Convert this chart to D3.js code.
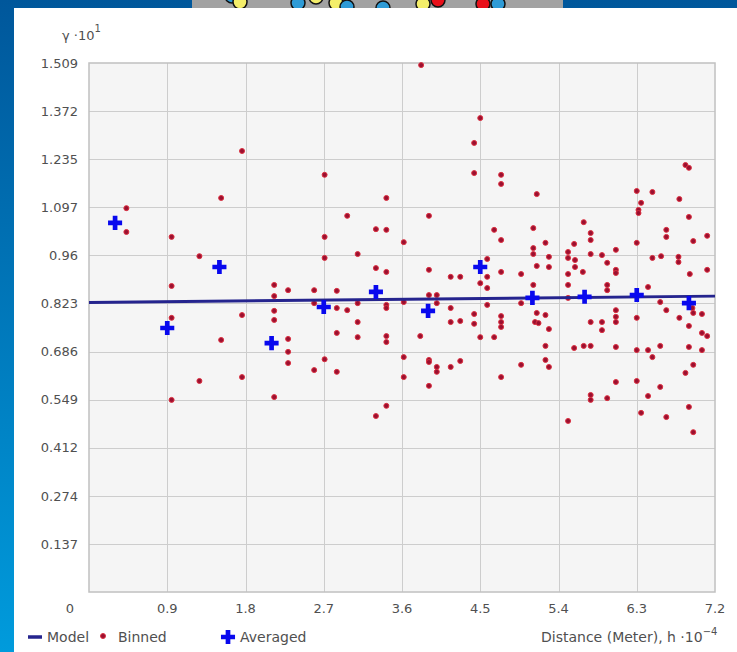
<!DOCTYPE html>
<html>
<head>
<meta charset="utf-8">
<script src="https://cdn.jsdelivr.net/npm/d3@7"></script>
<style>
  html, body { margin: 0; padding: 0; overflow: hidden; }
  body { width: 737px; height: 652px; }
  text { font-family: "DejaVu Sans", sans-serif; fill: #505050; }
</style>
</head>
<body>
<div id="viz"></div>
<script>
// semivariogram values (gamma * 10^1 against distance * 10^-4)
const xTickLabels = ["0.9", "1.8", "2.7", "3.6", "4.5", "5.4", "6.3", "7.2"];
const yTickLabels = ["0.137", "0.274", "0.412", "0.549", "0.686", "0.823", "0.96", "1.097", "1.235", "1.372", "1.509"];

const modelX = [0, 7.2];
const modelY = [0.826, 0.844];

const avgX = [0.3, 0.9, 1.5, 2.1, 2.7, 3.3, 3.9, 4.5, 5.1, 5.7, 6.3, 6.9];
const avgY = [1.053, 0.753, 0.927, 0.710, 0.813, 0.856, 0.802, 0.927, 0.839, 0.842, 0.847, 0.824];

const binned = [
  [0.43, 1.095], [0.43, 1.027], [0.95, 1.013], [0.95, 0.873], [1.27, 0.958], [1.52, 1.124],
  [1.76, 1.258], [1.76, 0.790], [2.13, 0.876], [2.13, 0.844], [2.29, 0.861], [2.13, 0.802],
  [2.13, 0.776], [0.95, 0.782], [1.52, 0.719], [2.29, 0.722], [2.29, 0.685], [2.29, 0.653],
  [1.27, 0.602], [1.76, 0.613], [0.95, 0.548], [2.13, 0.556],
  [3.82, 1.503], [4.50, 1.352], [4.43, 1.281], [4.43, 1.195], [4.74, 1.190], [4.74, 1.164],
  [2.71, 1.190], [3.42, 1.124], [2.97, 1.073], [3.91, 1.073], [3.30, 1.035], [3.42, 1.033],
  [2.71, 1.013], [3.62, 0.998], [4.66, 1.033], [4.74, 1.004], [2.71, 0.953], [3.09, 0.964],
  [3.30, 0.924], [3.42, 0.913], [3.91, 0.919], [4.16, 0.899], [4.27, 0.899], [4.58, 0.950],
  [4.58, 0.899], [4.50, 0.881], [4.58, 0.867], [4.74, 0.913], [2.59, 0.861], [2.85, 0.859],
  [2.59, 0.824], [2.85, 0.810], [2.97, 0.804], [3.09, 0.824], [3.42, 0.819], [3.42, 0.810],
  [3.62, 0.827], [3.91, 0.847], [4.00, 0.847], [4.00, 0.824], [4.16, 0.810], [4.58, 0.819],
  [4.43, 0.793], [4.16, 0.770], [4.27, 0.773], [4.43, 0.765], [4.74, 0.787], [4.74, 0.770],
  [4.74, 0.756], [3.09, 0.770], [2.85, 0.739], [3.09, 0.727], [3.42, 0.730], [3.42, 0.713],
  [3.81, 0.730], [4.50, 0.727], [4.66, 0.727], [2.71, 0.664], [2.59, 0.633], [2.85, 0.628],
  [3.62, 0.670], [3.62, 0.613], [3.91, 0.662], [3.91, 0.656], [4.00, 0.642], [4.00, 0.628],
  [4.16, 0.642], [4.27, 0.659], [3.91, 0.588], [4.74, 0.613], [3.42, 0.531], [3.30, 0.502],
  [6.86, 1.218], [6.90, 1.210], [5.15, 1.135], [6.30, 1.144], [6.48, 1.141], [6.79, 1.121],
  [6.35, 1.110], [6.32, 1.090], [6.32, 1.081], [6.90, 1.070], [5.69, 1.055], [5.11, 1.038],
  [5.77, 1.024], [5.77, 1.004], [6.64, 1.033], [6.64, 1.013], [7.11, 1.016], [5.25, 0.996],
  [6.30, 0.996], [6.95, 1.001], [5.11, 0.981], [5.11, 0.964], [5.58, 0.993], [5.51, 0.970],
  [5.51, 0.953], [5.59, 0.947], [5.59, 0.927], [5.77, 0.964], [5.90, 0.961], [5.29, 0.956],
  [5.29, 0.927], [6.06, 0.976], [5.96, 0.939], [6.48, 0.953], [6.58, 0.958], [6.78, 0.956],
  [6.78, 0.941], [5.15, 0.930], [4.97, 0.907], [5.51, 0.907], [5.68, 0.913], [6.06, 0.919],
  [6.06, 0.910], [6.91, 0.907], [7.11, 0.919], [5.11, 0.876], [5.51, 0.876], [5.96, 0.876],
  [5.96, 0.861], [6.43, 0.870], [4.97, 0.824], [5.51, 0.839], [6.57, 0.827], [6.64, 0.804],
  [6.94, 0.810], [5.15, 0.796], [5.25, 0.790], [5.13, 0.770], [5.17, 0.767], [5.29, 0.750],
  [5.77, 0.770], [5.90, 0.770], [5.90, 0.747], [6.06, 0.804], [6.06, 0.785], [6.06, 0.770],
  [6.30, 0.782], [6.79, 0.782], [6.90, 0.759], [6.95, 0.796], [7.05, 0.793], [7.05, 0.739],
  [7.11, 0.730], [5.25, 0.702], [5.58, 0.696], [5.69, 0.702], [5.77, 0.702], [6.06, 0.699],
  [6.30, 0.690], [6.43, 0.690], [6.48, 0.670], [6.57, 0.702], [6.90, 0.699], [7.05, 0.690],
  [4.97, 0.648], [5.25, 0.662], [5.29, 0.642], [6.95, 0.648], [6.86, 0.625], [6.06, 0.599],
  [6.30, 0.602], [6.57, 0.585], [6.43, 0.559], [5.77, 0.562], [5.77, 0.548], [5.96, 0.553],
  [6.90, 0.528], [6.35, 0.511], [6.64, 0.499], [5.51, 0.488], [6.95, 0.456]
];

// slide decoration peeking above the panel
const decoX = [232, 240, 298, 316, 336, 347, 383, 423, 438, 483, 498];
const decoY = [-4, 2, 3, -3, 3, 7, 8, 4, 0, 4, 4];
const decoC = ["#2e9bd6", "#f4ee6a", "#2e9bd6", "#f4ee6a", "#f4ee6a", "#2e9bd6", "#2e9bd6", "#f4ee6a", "#e8101a", "#e8101a", "#2e9bd6"];

const W = 737, H = 652;
const margin = { left: 89, top: 63, right: 22, bottom: 60 };
const pw = W - margin.left - margin.right;
const ph = H - margin.top - margin.bottom;

const svg = d3.select("#viz").append("svg")
  .attr("width", W)
  .attr("height", H);

const defs = svg.append("defs");
const grad = defs.append("linearGradient").attr("id", "bg")
  .attr("x1", 0).attr("y1", 0).attr("x2", 0).attr("y2", 1);
grad.append("stop").attr("offset", "0%").attr("stop-color", "#00579b");
grad.append("stop").attr("offset", "100%").attr("stop-color", "#009bdc");

svg.append("rect").attr("width", W).attr("height", H).attr("fill", "url(#bg)");

// gray strip + circles at the top
svg.append("rect").attr("x", 192).attr("y", 0).attr("width", 371).attr("height", 8).attr("fill", "#a2a2a2");
svg.selectAll("circle.deco").data(decoX).join("circle")
  .attr("class", "deco")
  .attr("cx", d => d)
  .attr("cy", (d, i) => decoY[i])
  .attr("r", 7)
  .attr("fill", (d, i) => decoC[i])
  .attr("stroke", "#111")
  .attr("stroke-width", 1.5);

// white panel
svg.append("rect").attr("x", 14).attr("y", 8).attr("width", W - 14).attr("height", H - 8).attr("fill", "#fff");

const x = d3.scaleLinear().domain([0, 7.2]).range([margin.left, margin.left + pw]);
const y = d3.scaleLinear().domain([0, 1.509]).range([margin.top + ph, margin.top]);

// plot background
svg.append("rect")
  .attr("x", x(0)).attr("y", y(1.509))
  .attr("width", x(7.2) - x(0)).attr("height", y(0) - y(1.509))
  .attr("fill", "#f5f5f5");

// grid
svg.append("g").selectAll("line").data(yTickLabels.slice(0, -1)).join("line")
  .attr("x1", x(0)).attr("x2", x(7.2))
  .attr("y1", d => Math.round(y(+d)) + 0.5).attr("y2", d => Math.round(y(+d)) + 0.5)
  .attr("stroke", "#cdcdcd");
svg.append("g").selectAll("line").data(xTickLabels.slice(0, -1)).join("line")
  .attr("x1", d => Math.round(x(+d)) + 0.5).attr("x2", d => Math.round(x(+d)) + 0.5)
  .attr("y1", y(0)).attr("y2", y(1.509))
  .attr("stroke", "#cdcdcd");

svg.append("rect")
  .attr("x", x(0)).attr("y", y(1.509))
  .attr("width", x(7.2) - x(0)).attr("height", y(0) - y(1.509))
  .attr("fill", "none").attr("stroke", "#c0c0c0").attr("stroke-width", 1.5);

// tick labels
svg.append("g").selectAll("text").data(yTickLabels).join("text")
  .attr("x", 78).attr("y", d => y(+d))
  .attr("dy", "0.36em")
  .attr("text-anchor", "end")
  .attr("font-size", 13)
  .text(d => d);
svg.append("g").selectAll("text").data(xTickLabels).join("text")
  .attr("x", d => x(+d)).attr("y", 613)
  .attr("text-anchor", "middle")
  .attr("font-size", 13)
  .text(d => d);
svg.append("text").attr("x", 70).attr("y", 613).attr("text-anchor", "middle")
  .attr("font-size", 13).text("0");

// axis titles
const yt = svg.append("text").attr("x", 62).attr("y", 40).attr("font-size", 13);
yt.append("tspan").text("γ ·10");
yt.append("tspan").attr("dy", -8).attr("font-size", 10).text("1");

const xt = svg.append("text").attr("x", 541).attr("y", 642).attr("font-size", 14);
xt.append("tspan").text("Distance (Meter), h ·10");
xt.append("tspan").attr("dy", -7).attr("font-size", 10).text("−4");

// binned points
svg.append("g").selectAll("circle").data(binned).join("circle")
  .attr("cx", d => x(d[0]))
  .attr("cy", d => y(d[1]))
  .attr("r", 2.5)
  .attr("fill", "#9a1030")
  .attr("stroke", "#dc3040")
  .attr("stroke-width", 1);

// model line
const line = d3.line().x(d => x(d[0])).y(d => y(d[1]));
svg.append("path")
  .datum(modelX.map((v, i) => [v, modelY[i]]))
  .attr("d", line)
  .attr("fill", "none")
  .attr("stroke", "#25248e")
  .attr("stroke-width", 3);

// averaged crosses
const cross = d3.symbol().type(d3.symbolCross).size(110);
svg.append("g").selectAll("path").data(avgX).join("path")
  .attr("transform", (d, i) => `translate(${x(d)},${y(avgY[i])})`)
  .attr("d", cross)
  .attr("fill", "#0808ee");

// legend
const lg = svg.append("g");
lg.append("line").attr("x1", 28).attr("x2", 42).attr("y1", 637).attr("y2", 637)
  .attr("stroke", "#25248e").attr("stroke-width", 3.5);
lg.append("text").attr("x", 47).attr("y", 642).attr("font-size", 14).text("Model");
lg.append("circle").attr("cx", 103).attr("cy", 636).attr("r", 2.5)
  .attr("fill", "#9a1030").attr("stroke", "#dc3040").attr("stroke-width", 1);
lg.append("text").attr("x", 118).attr("y", 642).attr("font-size", 14).text("Binned");
lg.append("path").attr("transform", "translate(228,637)").attr("d", cross).attr("fill", "#0808ee");
lg.append("text").attr("x", 240).attr("y", 642).attr("font-size", 14).text("Averaged");
</script>
</body>
</html>
